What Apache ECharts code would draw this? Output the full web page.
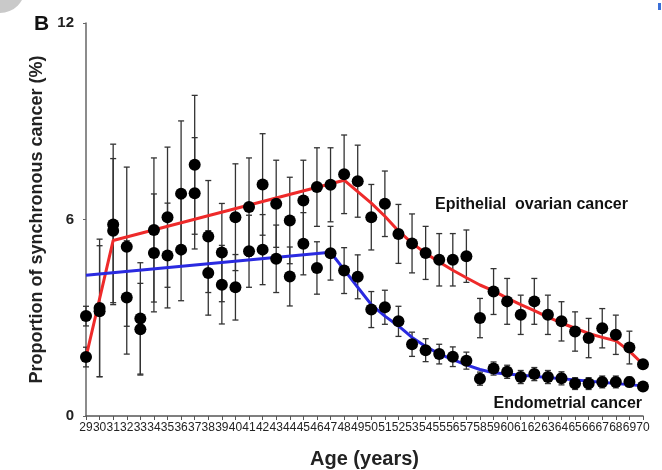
<!DOCTYPE html>
<html>
<head>
<meta charset="utf-8">
<script src="https://cdn.jsdelivr.net/npm/echarts@6/dist/echarts.min.js"></script>
<style>
    body { margin: 0; background: #fff; }
    #chart { width: 662px; height: 470px; }
</style>
</head>
<body>
<div id="chart"></div>
<script>
var ages = [29, 30, 31, 32, 33, 34, 35, 36, 37, 38, 39, 40, 41, 42, 43, 44, 45, 46, 47, 48, 49,
            50, 51, 52, 53, 54, 55, 56, 57, 58, 59, 60, 61, 62, 63, 64, 65, 66, 67, 68, 69, 70];

// epithelial ovarian cancer: proportion (%) and half error bar
var ovarian = [1.8, 3.3, 5.85, 5.17, 2.98, 5.68, 6.07, 6.79, 7.67, 5.48, 4.99, 6.07, 6.38, 7.07, 6.48, 5.97, 6.58, 6.99, 7.06, 7.38, 7.17,
               6.07, 6.48, 5.56, 5.27, 4.98, 4.77, 4.77, 4.88, 2.99, 3.8, 3.5, 3.09, 3.5, 3.09, 2.89, 2.58, 2.38, 2.68, 2.48, 2.09, 1.58];
var ovarianErr = [0.3, 2.1, 2.45, 2.43, 1.7, 2.2, 2.14, 2.22, 2.12, 1.71, 1.5, 1.63, 1.5, 1.55, 1.33, 1.32, 1.23, 1.2, 1.13, 1.2, 1.1,
                  1.0, 1.0, 0.9, 0.9, 0.81, 0.8, 0.8, 0.8, 0.6, 0.7, 0.7, 0.6, 0.7, 0.6, 0.6, 0.6, 0.6, 0.6, 0.6, 0.5, 0.05];

// endometrial cancer
var endometrial = [3.05, 3.2, 5.66, 3.62, 2.65, 4.98, 4.9, 5.08, 6.8, 4.37, 4.01, 3.93, 5.03, 5.08, 4.8, 4.26, 5.26, 4.52, 4.97, 4.44, 4.25,
                   3.25, 3.32, 2.89, 2.19, 2.01, 1.89, 1.81, 1.69, 1.14, 1.45, 1.35, 1.19, 1.28, 1.19, 1.15, 0.99, 0.99, 1.04, 1.04, 1.04, 0.9];
var endometrialErr = [0.3, 2.0, 2.2, 1.73, 1.4, 1.8, 1.6, 1.56, 1.7, 1.29, 1.2, 1.0, 1.1, 1.07, 1.03, 0.9, 0.95, 0.8, 0.82, 0.7, 0.67,
                      0.55, 0.52, 0.46, 0.37, 0.35, 0.3, 0.3, 0.26, 0.2, 0.2, 0.2, 0.2, 0.2, 0.2, 0.2, 0.18, 0.18, 0.18, 0.18, 0.15, 0.05];

// fitted trend lines (vertices)
var ovarianFitAges = [29, 31, 48, 49, 50, 51, 52, 53, 54, 55, 56, 57, 58, 59, 60, 61, 62, 63, 64, 65, 66, 67, 68, 69, 70];
var ovarianFit = [1.8, 5.36, 7.2, 6.85, 6.5, 6.1, 5.65, 5.28, 4.97, 4.7, 4.45, 4.22, 4.0, 3.82, 3.6, 3.4, 3.22, 3.02, 2.84, 2.68, 2.52, 2.4, 2.3, 1.98, 1.58];
var endoFitAges = [29, 47, 48, 49, 50, 51, 52, 53, 54, 55, 56, 57, 58, 59, 70];
var endoFit = [4.3, 5.0, 4.47, 3.93, 3.4, 3.05, 2.75, 2.4, 2.12, 1.9, 1.72, 1.56, 1.42, 1.32, 0.92];

var yTicks = [0, 6, 12];

var FONT = 'Liberation Sans, Arial, sans-serif';

function pairs (xs, ys) {
    var out = [];
    for (var i = 0; i < xs.length; i++) {
        out.push([xs[i], ys[i]]);
    }
    return out;
}

function errData (vals, errs) {
    var out = [];
    for (var i = 0; i < ages.length; i++) {
        out.push([ages[i], vals[i] - errs[i], vals[i] + errs[i]]);
    }
    return out;
}

function renderErr (params, api) {
    var lo = api.coord([api.value(0), api.value(1)]);
    var hi = api.coord([api.value(0), api.value(2)]);
    var w = 3;
    var style = { stroke: '#333', lineWidth: 1.3, fill: null };
    return {
        type: 'group',
        children: [
            { type: 'line', shape: { x1: lo[0], y1: lo[1], x2: hi[0], y2: hi[1] }, style: style },
            { type: 'line', shape: { x1: lo[0] - w, y1: lo[1], x2: lo[0] + w, y2: lo[1] }, style: style },
            { type: 'line', shape: { x1: hi[0] - w, y1: hi[1], x2: hi[0] + w, y2: hi[1] }, style: style }
        ]
    };
}

var chart = echarts.init(document.getElementById('chart'));

option = {
    animation: false,
    backgroundColor: '#fff',
    grid: { left: 86, right: 19, top: 23, bottom: 54, outerBoundsMode: 'none' },
    xAxis: {
        type: 'value',
        min: ages[0],
        max: ages[ages.length - 1],
        interval: 1,
        splitLine: { show: false },
        axisLine: { lineStyle: { color: '#555', width: 1.5 } },
        axisTick: { length: 4, lineStyle: { color: '#555' } },
        axisLabel: { fontSize: 12, color: '#222', margin: 6, fontFamily: FONT },
        name: 'Age (years)',
        nameLocation: 'middle',
        nameGap: 33,
        nameTextStyle: { fontSize: 20, fontWeight: 'bold', color: '#222', fontFamily: FONT }
    },
    yAxis: {
        type: 'value',
        min: yTicks[0],
        max: yTicks[yTicks.length - 1],
        interval: yTicks[1] - yTicks[0],
        splitLine: { show: false },
        axisLine: { show: true, lineStyle: { color: '#666', width: 1.5 } },
        axisTick: { show: true, length: 3, lineStyle: { color: '#666' } },
        axisLabel: { fontSize: 15, fontWeight: 'bold', color: '#222', margin: 12, fontFamily: FONT },
        name: 'Proportion of synchronous cancer (%)',
        nameLocation: 'middle',
        nameGap: 28,
        nameTextStyle: { fontSize: 18, fontWeight: 'bold', color: '#222', fontFamily: FONT }
    },
    graphic: [
        { type: 'circle', shape: { cx: 0, cy: -12, r: 25 }, style: { fill: '#c9c9c9' } },
        { type: 'rect', shape: { x: 658, y: 3, width: 3, height: 7 }, style: { fill: '#3a6fd8' } },
        { type: 'text', left: 34, top: 14, style: { text: 'B', font: 'bold 21px ' + FONT, fill: '#111' } },
        { type: 'text', left: 435, top: 197, style: { text: 'Epithelial  ovarian cancer', font: 'bold 16px ' + FONT, fill: '#111' } },
        { type: 'text', right: 20, top: 396, style: { text: 'Endometrial cancer', font: 'bold 16px ' + FONT, fill: '#111' } }
    ],
    series: [
        { type: 'custom', renderItem: renderErr, data: errData(ovarian, ovarianErr), z: 1, silent: true },
        { type: 'custom', renderItem: renderErr, data: errData(endometrial, endometrialErr), z: 1, silent: true },
        {
            type: 'line', data: pairs(ovarianFitAges, ovarianFit), z: 2, showSymbol: false,
            lineStyle: { color: '#ee2a2a', width: 3 }
        },
        {
            type: 'line', data: pairs(endoFitAges, endoFit), z: 2, showSymbol: false,
            lineStyle: { color: '#2a2ae0', width: 3 }
        },
        {
            type: 'scatter', data: pairs(ages, ovarian), z: 3, symbolSize: 12,
            itemStyle: { color: '#000', opacity: 1 }
        },
        {
            type: 'scatter', data: pairs(ages, endometrial), z: 3, symbolSize: 12,
            itemStyle: { color: '#000', opacity: 1 }
        }
    ]
};
chart.setOption(option);
</script>
</body>
</html>
